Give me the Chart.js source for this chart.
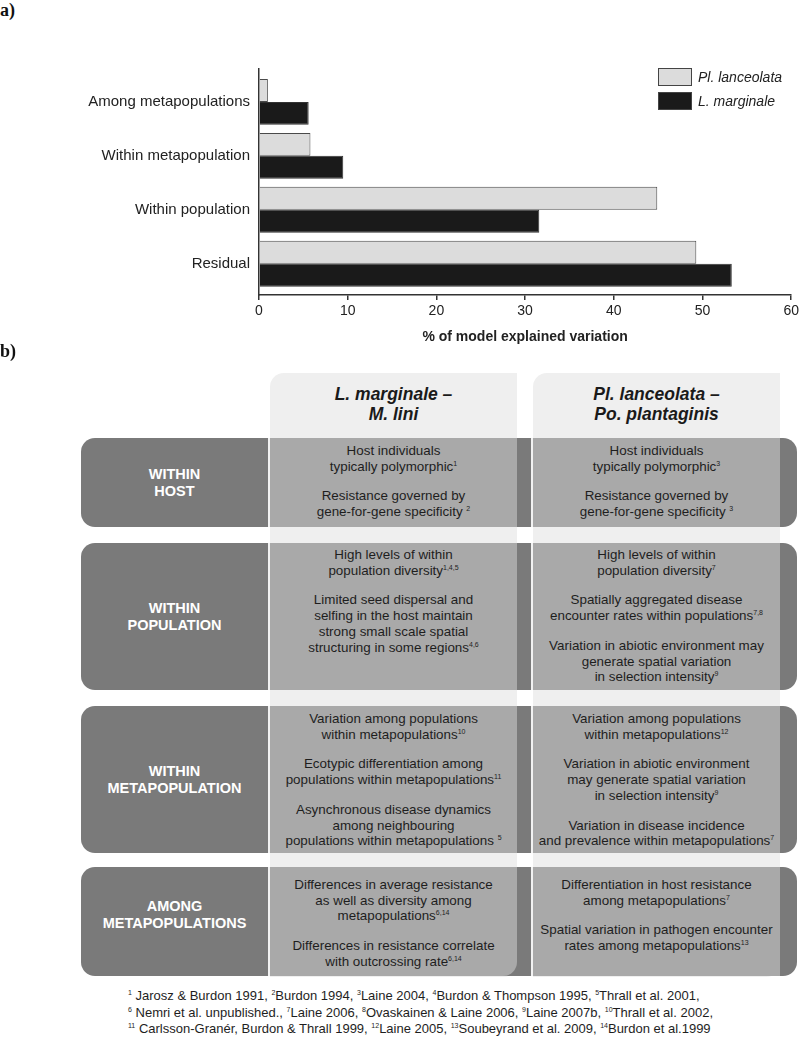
<!DOCTYPE html>
<html>
<head>
<meta charset="utf-8">
<script src="https://cdn.jsdelivr.net/npm/chart.js@4.4.0/dist/chart.umd.min.js"></script>
<style>
body { margin:0; width:800px; height:1038px; background:#fff; position:relative; overflow:hidden;
       font-family:"Liberation Sans", Arial, sans-serif; color:#1e1e1e; }
.plabel { position:absolute; left:0; font-family:"Liberation Serif", "Times New Roman", serif; font-weight:bold; font-size:18px; color:#111; }
#chartBox { position:absolute; left:0; top:40px; width:802px; height:310px; }
#legend { position:absolute; left:658px; top:65px; font-size:14px; font-style:italic; color:#222; }
#legend div { height:24px; display:flex; align-items:center; }
#legend .sw { width:34px; height:18px; border:1px solid #444; box-sizing:border-box; margin-right:6px; }

.colpanel { position:absolute; top:373px; height:604px; width:247px; background:#efefef; border-radius:14px 0 14px 0; }
.colhead { position:absolute; top:384px; width:247px; text-align:center; font-weight:bold; font-style:italic;
           font-size:17.5px; line-height:20px; color:#1a1a1a; }
.rowbg { position:absolute; left:81px; width:716px; background:#7a7a7a; border-radius:14px; }
.rowlabel { position:absolute; left:81px; width:187px; display:flex; align-items:center; justify-content:center;
            text-align:center; color:#fff; font-weight:bold; font-size:14.5px; line-height:16.5px; }
.cell { position:absolute; width:247px; background:#a9a9a9; border-left:2px solid #f2f2f2; text-align:center;
        font-size:13.4px; line-height:15.7px; color:#1e1e1e; box-sizing:content-box; }
.cell p { margin:0 0 14px 0; }
sup { font-size:7px; line-height:0; vertical-align:5px; }
#notes { position:absolute; left:128px; top:988px; font-size:13px; line-height:16.6px; color:#1e1e1e; white-space:nowrap; }
</style>
</head>
<body>
<div class="plabel" style="top:0px;">a)</div>
<div id="chartBox"><canvas id="varChart"></canvas></div>
<div id="legend"></div>

<div class="plabel" style="top:341px;">b)</div>
<div id="table"></div>
<div id="notes"></div>

<script>
// panel a) data
const categories = ['Among metapopulations', 'Within metapopulation', 'Within population', 'Residual'];
const lanceolataValues = [1.0, 5.8, 44.9, 49.3];
const marginaleValues = [5.6, 9.5, 31.6, 53.3];
const seriesNames = ['Pl. lanceolata', 'L. marginale'];
const seriesColors = ['#dcdcdc', '#1a1a1a'];
const xMax = 60;
const xStep = 10;

// panel b) text
const colHeads = ['L. marginale –<br>M. lini', 'Pl. lanceolata –<br>Po. plantaginis'];
const rowLabels = ['WITHIN<br>HOST', 'WITHIN<br>POPULATION', 'WITHIN<br>METAPOPULATION', 'AMONG<br>METAPOPULATIONS'];
const marginaleText = [
    ['Host individuals<br>typically polymorphic<sup>1</sup>',
     'Resistance governed by<br>gene-for-gene specificity <sup>2</sup>'],
    ['High levels of within<br>population diversity<sup>1,4,5</sup>',
     'Limited seed dispersal and<br>selfing in the host maintain<br>strong small scale spatial<br>structuring in some regions<sup>4,6</sup>'],
    ['Variation among populations<br>within metapopulations<sup>10</sup>',
     'Ecotypic differentiation among<br>populations within metapopulations<sup>11</sup>',
     'Asynchronous disease dynamics<br>among neighbouring<br>populations within metapopulations <sup>5</sup>'],
    ['Differences in average resistance<br>as well as diversity among<br>metapopulations<sup>6,14</sup>',
     'Differences in resistance correlate<br>with outcrossing rate<sup>6,14</sup>']
];
const lanceolataText = [
    ['Host individuals<br>typically polymorphic<sup>3</sup>',
     'Resistance governed by<br>gene-for-gene specificity <sup>3</sup>'],
    ['High levels of within<br>population diversity<sup>7</sup>',
     'Spatially aggregated disease<br>encounter rates within populations<sup>7,8</sup>',
     'Variation in abiotic environment may<br>generate spatial variation<br>in selection intensity<sup>9</sup>'],
    ['Variation among populations<br>within metapopulations<sup>12</sup>',
     'Variation in abiotic environment<br>may generate spatial variation<br>in selection intensity<sup>9</sup>',
     'Variation in disease incidence<br>and prevalence within metapopulations<sup>7</sup>'],
    ['Differentiation in host resistance<br>among metapopulations<sup>7</sup>',
     'Spatial variation in pathogen encounter<br>rates among metapopulations<sup>13</sup>']
];
const footnotes = [
    '<sup>1</sup> Jarosz &amp; Burdon 1991, <sup>2</sup>Burdon 1994, <sup>3</sup>Laine 2004, <sup>4</sup>Burdon &amp; Thompson 1995, <sup>5</sup>Thrall et al. 2001,',
    '<sup>6</sup> Nemri et al. unpublished., <sup>7</sup>Laine 2006, <sup>8</sup>Ovaskainen &amp; Laine 2006, <sup>9</sup>Laine 2007b, <sup>10</sup>Thrall et al. 2002,',
    '<sup>11</sup> Carlsson-Granér, Burdon &amp; Thrall 1999, <sup>12</sup>Laine 2005, <sup>13</sup>Soubeyrand et al. 2009, <sup>14</sup>Burdon et al.1999'
];

Chart.defaults.font.family = '"Liberation Sans", Arial, sans-serif';
Chart.defaults.color = '#222';

const ctx = document.getElementById('varChart').getContext('2d');
new Chart(ctx, {
    type: 'bar',
    data: {
        labels: categories,
        datasets: [{
            label: seriesNames[0],
            data: lanceolataValues,
            backgroundColor: seriesColors[0],
            borderColor: '#4a4a4a',
            borderWidth: 1,
            categoryPercentage: 0.85,
            barPercentage: 1
        }, {
            label: seriesNames[1],
            data: marginaleValues,
            backgroundColor: seriesColors[1],
            borderColor: '#333',
            borderWidth: 1,
            categoryPercentage: 0.85,
            barPercentage: 1
        }]
    },
    options: {
        indexAxis: 'y',
        responsive: true,
        maintainAspectRatio: false,
        animation: false,
        layout: { padding: { top: 29, left: 0, right: 0, bottom: 0 } },
        plugins: { legend: { display: false }, tooltip: { enabled: false } },
        scales: {
            x: {
                min: 0,
                max: xMax,
                ticks: { stepSize: xStep, font: { size: 14 }, padding: 3, color: '#222' },
                grid: { drawOnChartArea: false, drawTicks: true, tickLength: 5, color: '#333', lineWidth: 1.5 },
                border: { color: '#333', width: 1.5 },
                title: { display: true, text: '% of model explained variation', color: '#222',
                         font: { size: 14, weight: 'bold' }, padding: { top: 6 } },
                afterFit: function(scale) { scale.height = 55; }
            },
            y: {
                ticks: { font: { size: 15 }, padding: 9, color: '#222' },
                grid: { drawOnChartArea: false, drawTicks: false },
                border: { color: '#333', width: 1.5 },
                afterFit: function(scale) { scale.width = 259; },
                // leave a little empty room above the first and below the last category
                afterUpdate: function(scale) {
                    scale._startValue = -0.61;
                    scale._valueRange = 4.19;
                }
            }
        }
    }
});

// legend
const legend = document.getElementById('legend');
seriesNames.forEach((name, i) => {
    legend.innerHTML += '<div><span class="sw" style="background:' + seriesColors[i] + '"></span>' + name + '</div>';
});

// table for panel b)
const rowTops = [438, 543, 706, 867];
const rowHeights = [89, 147, 147, 109];
const padTops = [5, 4, 5, 10];
const labelShift = [0, 0, 0, 14];
const colLefts = [268, 531];
let html = '';
colLefts.forEach((x, i) => {
    html += '<div class="colpanel" style="left:' + (x + 2) + 'px"></div>';
    html += '<div class="colhead" style="left:' + (x + 2) + 'px">' + colHeads[i] + '</div>';
});
rowLabels.forEach((lab, r) => {
    const t = rowTops[r], h = rowHeights[r];
    html += '<div class="rowbg" style="top:' + t + 'px;height:' + h + 'px"></div>';
    html += '<div class="rowlabel" style="top:' + t + 'px;height:' + (h - labelShift[r]) + 'px">' + lab + '</div>';
    [marginaleText[r], lanceolataText[r]].forEach((paras, c) => {
        const rad = (r === 3 && c === 0) ? 'border-bottom-right-radius:14px;' : '';
        html += '<div class="cell" style="left:' + colLefts[c] + 'px;top:' + t + 'px;height:' + (h - padTops[r]) +
                'px;padding-top:' + padTops[r] + 'px;' + rad + '">' +
                paras.map(p => '<p>' + p + '</p>').join('') + '</div>';
    });
});
document.getElementById('table').innerHTML = html;
document.getElementById('notes').innerHTML = footnotes.join('<br>');
</script>
</body>
</html>
